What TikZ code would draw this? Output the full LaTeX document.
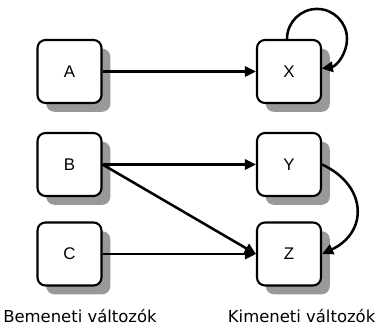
\documentclass[tikz,border=0pt]{standalone}
\usepackage{fontspec}
\setmainfont{DejaVu Sans}
\newfontfamily\boxfont{Liberation Sans}
\usetikzlibrary{arrows.meta,shadows}

\begin{document}
\begin{tikzpicture}[
  var/.style={draw, line width=1.5pt, rounded corners=0.2cm, fill=white,
    minimum width=1.6cm, minimum height=1.575cm, font=\boxfont\fontsize{12}{14}\selectfont,
    general shadow={shadow xshift=0.22cm, shadow yshift=-0.22cm, fill=black!40, draw=none}},
  link/.style={line width=1.8pt, -{Triangle[length=0.28cm,width=0.26cm]}},
  caption/.style={anchor=base, font=\fontsize{11.7}{14}\selectfont}]
\useasboundingbox (0,0) rectangle (9.5,8.125);
\begin{scope}
% bemeneti
\node[var] (A) at (1.7375,6.3375) {A};
\node[var] (B) at (1.7375,4.0125) {B};
\node[var] (C) at (1.7375,1.775) {C};
% kimeneti
\node[var] (X) at (7.225,6.3375) {X};
\node[var] (Y) at (7.225,4.0125) {Y};
\node[var] (Z) at (7.225,1.775) {Z};
\draw[link] (A) -- (X);
\draw[link] (B) -- (Y);
\draw[link] (B.east) -- (Z.west);
\draw[link] (C) -- (Z);
% X visszacsatolasa
\draw[link] ([xshift=-0.05cm]X.north) arc[start angle=180, end angle=-81, radius=0.75cm];
\draw[link] (Y.east) to[out=-25,in=25,looseness=1.45] (Z.east);
\node[caption] (in) at (2.0,0.07) {Bemeneti változók};
\node[caption] (out) at (7.54,0.07) {Kimeneti változók};
\end{scope}
\end{tikzpicture}
\end{document}
